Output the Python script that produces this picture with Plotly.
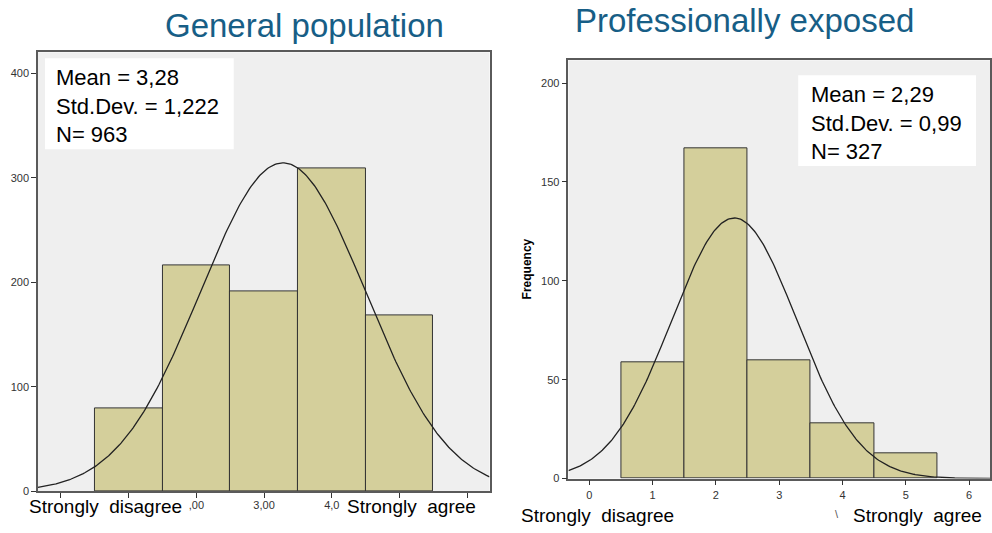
import numpy as np
import plotly.graph_objects as go

# ---------------- data ----------------
categories = [1, 2, 3, 4, 5]
general_counts = [79, 216, 191, 309, 168]
exposed_counts = [59, 167, 60, 28, 13]
general_mean, general_sd, general_n = 3.28, 1.222, 963
exposed_mean, exposed_sd, exposed_n = 2.29, 0.99, 327
left_x_ticks = [0, 1, 2, 3, 4, 5, 6]
left_x_ticktext = ["", "", ",00", "3,00", "4,0", "", ""]
right_x_ticks = [0, 1, 2, 3, 4, 5, 6]
right_x_ticktext = ["0", "1", "2", "3", "4", "5", "6"]
left_y_ticks = [0, 100, 200, 300, 400]
right_y_ticks = [0, 50, 100, 150, 200]
titles = ["General population", "Professionally exposed"]

W, H = 992, 533
BAR = "#d4cf9b"
BG = "#efefef"
BORDER = "#5a5a5a"
TITLE_C = "#175e86"
FONT = "Liberation Sans, Arial, sans-serif"


def px(x):
    return x / W


def py(y):
    return 1 - y / H


def normal_curve(mean, sd, n, lo, hi):
    xs = np.linspace(lo, hi, 300)
    ys = n * np.exp(-0.5 * ((xs - mean) / sd) ** 2) / (sd * np.sqrt(2 * np.pi))
    return xs, ys


fig = go.Figure()

# left panel: general population
fig.add_trace(go.Bar(x=categories, y=general_counts, width=1, marker=dict(color=BAR, line=dict(color="#333333", width=1)),
                     xaxis="x", yaxis="y", showlegend=False))
gx, gy = normal_curve(general_mean, general_sd, general_n, -0.34, 6.33)
fig.add_trace(go.Scatter(x=gx, y=gy, mode="lines", line=dict(color="#222222", width=1.3), xaxis="x", yaxis="y",
                         showlegend=False))

# right panel: professionally exposed
fig.add_trace(go.Bar(x=categories, y=exposed_counts, width=1, marker=dict(color=BAR, line=dict(color="#333333", width=1)),
                     xaxis="x2", yaxis="y2", showlegend=False))
ex, ey = normal_curve(exposed_mean, exposed_sd, exposed_n, -0.33, 6.33)
fig.add_trace(go.Scatter(x=ex, y=ey, mode="lines", line=dict(color="#222222", width=1.3), xaxis="x2", yaxis="y2",
                         showlegend=False))

axis_common = dict(showgrid=False, zeroline=False, showline=True, linecolor=BORDER, linewidth=1.5, mirror=True,
                   ticks="outside", ticklen=5, tickcolor="#333333", tickwidth=1.2,
                   tickfont=dict(family=FONT, size=11, color="#333333"))

fig.update_layout(
    width=W, height=H, margin=dict(l=0, r=0, t=0, b=0),
    paper_bgcolor="white", plot_bgcolor=BG, bargap=0,
    xaxis=dict(domain=[px(38), px(490)], range=[-0.34, 6.33], tickvals=left_x_ticks, ticktext=left_x_ticktext,
               anchor="y", ticklabelstandoff=-2, **axis_common),
    yaxis=dict(domain=[py(497), py(53)], range=[0, 420], tickvals=left_y_ticks, anchor="x", **axis_common),
    xaxis2=dict(domain=[px(569), px(991)], range=[-0.33, 6.33], tickvals=right_x_ticks, ticktext=right_x_ticktext,
                anchor="y2", **axis_common),
    yaxis2=dict(domain=[py(484), py(61)], range=[0, 211.5], tickvals=right_y_ticks, anchor="x2", **axis_common),
)

# statistics boxes
fig.add_shape(type="rect", xref="paper", yref="paper", x0=px(45), x1=px(234), y0=py(151), y1=py(59),
              fillcolor="white", line=dict(width=0), layer="above")
fig.add_shape(type="rect", xref="paper", yref="paper", x0=px(799), x1=px(977), y0=py(168), y1=py(76),
              fillcolor="white", line=dict(width=0), layer="above")

annots = []
annots.append(dict(x=px(54), y=py(64), xref="paper", yref="paper", xanchor="left", yanchor="top", align="left",
                   text="Mean = 3,28<br>Std.Dev. = 1,222<br>N= 963", showarrow=False,
                   font=dict(family=FONT, size=22, color="black")))
annots.append(dict(x=px(810), y=py(81), xref="paper", yref="paper", xanchor="left", yanchor="top", align="left",
                   text="Mean = 2,29<br>Std.Dev. = 0,99<br>N= 327", showarrow=False,
                   font=dict(family=FONT, size=22, color="black")))

# titles
annots.append(dict(x=px(305), y=py(26), xref="paper", yref="paper", xanchor="center", yanchor="middle",
                   text=titles[0], showarrow=False, font=dict(family=FONT, size=33, color=TITLE_C)))
annots.append(dict(x=px(745), y=py(21), xref="paper", yref="paper", xanchor="center", yanchor="middle",
                   text=titles[1], showarrow=False, font=dict(family=FONT, size=33, color=TITLE_C)))

# y-axis title of right panel
annots.append(dict(x=px(527), y=py(272), xref="paper", yref="paper", xanchor="center", yanchor="middle",
                   text="<b>Frequency</b>", textangle=-90, showarrow=False,
                   font=dict(family=FONT, size=12, color="black")))

# bottom scale labels
lab_font = dict(family=FONT, size=19, color="black")
annots.append(dict(x=px(27), y=py(512), xref="paper", yref="paper", xanchor="left", yanchor="middle",
                   text="Strongly  disagree", showarrow=False, font=lab_font))
annots.append(dict(x=px(345), y=py(512), xref="paper", yref="paper", xanchor="left", yanchor="middle",
                   text="Strongly  agree", showarrow=False, font=lab_font))
annots.append(dict(x=px(520), y=py(521), xref="paper", yref="paper", xanchor="left", yanchor="middle",
                   text="Strongly  disagree", showarrow=False, font=lab_font))
annots.append(dict(x=px(852), y=py(521), xref="paper", yref="paper", xanchor="left", yanchor="middle",
                   text="Strongly  agree", showarrow=False, font=lab_font))
annots.append(dict(x=px(838), y=py(520), xref="paper", yref="paper", xanchor="center", yanchor="middle",
                   text="\\", showarrow=False, font=dict(family=FONT, size=11, color="#555555")))

fig.update_layout(annotations=annots)

fig.write_html("out.html", config={"displayModeBar": False},
               post_script="document.body.style.margin='0';document.body.style.overflow='hidden';")
